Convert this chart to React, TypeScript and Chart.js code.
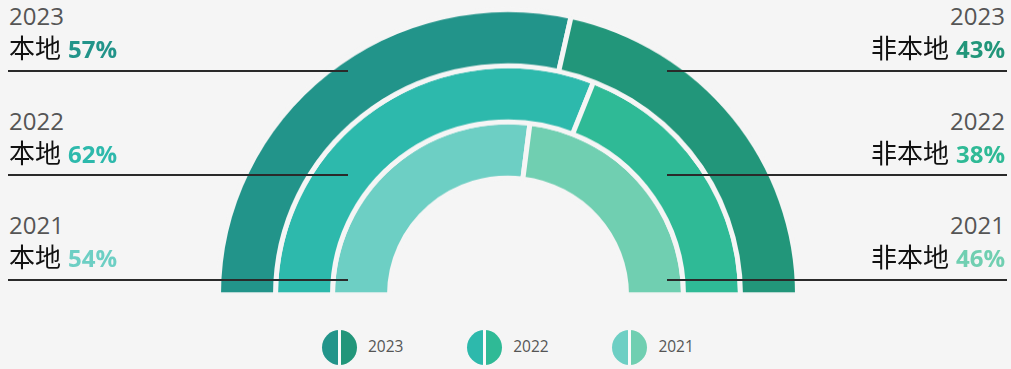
import React, { useEffect, useRef } from 'react';
import { Chart, registerables } from 'chart.js';

Chart.register(...registerables);

// ---- data ----
const years = ['2023', '2022', '2021'];
const localShare = [57, 62, 54];
const nonLocalShare = [43, 38, 46];
const sideLabels = ['本地', '非本地'];
const localColors = ['#22948a', '#2db9ac', '#6dcfc4'];
const nonLocalColors = ['#22967a', '#2fba96', '#70cfb1'];

const BG = '#f5f5f5';
const FONT = '"Open Sans", "Noto Sans CJK SC", sans-serif';
const BLOCK_STEP = 104.6;

function Donut() {
  const ref = useRef<HTMLCanvasElement | null>(null);
  useEffect(() => {
    if (!ref.current) return;
    const chart = new Chart(ref.current, {
      type: 'doughnut',
      data: {
        labels: sideLabels,
        datasets: years.map((y, i) => ({
          label: y,
          data: [localShare[i], nonLocalShare[i]],
          backgroundColor: [localColors[i], nonLocalColors[i]],
          borderColor: BG,
          borderWidth: 5,
          hoverBorderWidth: 5,
          hoverOffset: 0,
        })),
      },
      options: {
        responsive: false,
        maintainAspectRatio: false,
        animation: false,
        events: [],
        rotation: -90,
        circumference: 180,
        radius: 289.5,
        cutout: '40.93%',
        layout: { padding: 0 },
        plugins: { legend: { display: false }, tooltip: { enabled: false } },
      } as any,
    });
    return () => chart.destroy();
  }, []);
  return (
    <canvas
      ref={ref}
      width={600}
      height={300}
      style={{
        position: 'absolute',
        left: 208,
        top: 0,
        width: 600,
        height: 300,
        transform: 'scaleY(0.985)',
        transformOrigin: '300px 294.75px',
        zIndex: 1,
      }}
    />
  );
}

function SideBlock({ i, side }: { i: number; side: 'left' | 'right' }) {
  const isLeft = side === 'left';
  const dy = i * BLOCK_STEP;
  const pct = isLeft ? localShare[i] : nonLocalShare[i];
  const color = isLeft ? localColors[i] : nonLocalColors[i];
  const label = isLeft ? sideLabels[0] : sideLabels[1];
  const posStyle: React.CSSProperties = isLeft
    ? { left: 9, textAlign: 'left' }
    : { right: 6, textAlign: 'right' };
  return (
    <>
      <div
        style={{
          position: 'absolute',
          top: 3 + dy,
          ...posStyle,
          fontSize: 24,
          lineHeight: '26px',
          color: '#555',
          fontFamily: FONT,
          whiteSpace: 'nowrap',
          zIndex: 3,
        }}
      >
        {years[i]}
      </div>
      <div
        style={{
          position: 'absolute',
          top: 34 + dy,
          ...posStyle,
          fontSize: 24,
          lineHeight: '26px',
          color: '#111',
          fontFamily: FONT,
          whiteSpace: 'nowrap',
          zIndex: 3,
        }}
      >
        <span style={{ fontFamily: '"Noto Sans CJK SC", sans-serif', fontSize: 26 }}>{label}</span>
        <span style={{ display: 'inline-block', width: 7 }} />
        <span style={{ color, fontWeight: 700 }}>{pct}%</span>
      </div>
      <div
        style={{
          position: 'absolute',
          top: 69.5 + dy,
          left: isLeft ? 8 : 667,
          width: 340,
          height: 2,
          background: '#2a2a2a',
          zIndex: 3,
        }}
      />
    </>
  );
}

function Legend() {
  return (
    <>
      {years.map((y, i) => {
        const cx = 339 + i * 145.2;
        return (
          <React.Fragment key={y}>
            <div
              style={{
                position: 'absolute',
                left: cx - 17.5,
                top: 329.5,
                width: 35,
                height: 35,
                borderRadius: '50%',
                background: `linear-gradient(to right, ${localColors[i]} 0, ${localColors[i]} calc(50% - 1.2px), #fafafa calc(50% - 1.2px), #fafafa calc(50% + 1.2px), ${nonLocalColors[i]} calc(50% + 1.2px), ${nonLocalColors[i]} 100%)`,
              }}
            />
            <div
              style={{
                position: 'absolute',
                left: cx + 29,
                top: 336,
                fontSize: 15.5,
                lineHeight: '20px',
                color: '#555',
                fontFamily: FONT,
              }}
            >
              {y}
            </div>
          </React.Fragment>
        );
      })}
    </>
  );
}

export default function App() {
  return (
    <div
      style={{
        position: 'fixed',
        left: 0,
        top: 0,
        width: 1011,
        height: 369,
        background: BG,
        overflow: 'hidden',
      }}
    >
      <Donut />
      {years.map((_, i) => (
        <React.Fragment key={i}>
          <SideBlock i={i} side="left" />
          <SideBlock i={i} side="right" />
        </React.Fragment>
      ))}
      <Legend />
    </div>
  );
}
